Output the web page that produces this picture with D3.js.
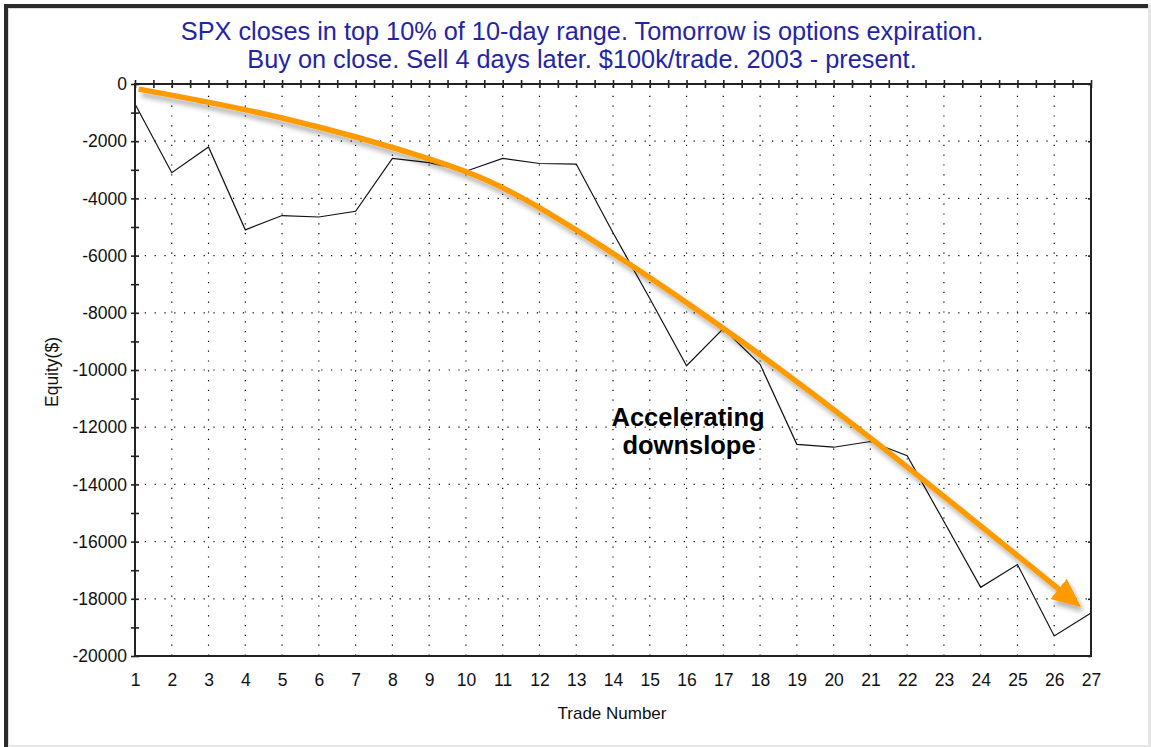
<!DOCTYPE html>
<html>
<head>
<meta charset="utf-8">
<script src="https://cdn.jsdelivr.net/npm/d3@7"></script>
<style>
  body { margin: 0; background: #fff; }
  svg { display: block; font-family: Arial, "Liberation Sans", sans-serif; }
</style>
</head>
<body>
<div id="chart"></div>
<script>
// Equity after each trade
const trades = d3.range(1, 28);
const equity = [-700, -3100, -2200, -5100, -4600, -4650, -4450, -2600, -2750, -3050,
  -2600, -2780, -2800, -5200, -7500, -9850, -8550, -9800, -12600, -12700,
  -12500, -13000, -15300, -17600, -16800, -19300, -18500];

// Hand drawn orange "trend" arrow, in trade / equity units
const arrowTrade = [1.1, 5, 9.1, 12.2, 16.9, 21.3, 26.16];
const arrowEquity = [-180, -1190, -2660, -4480, -8450, -12680, -17700];

const yTicks = d3.range(0, -20001, -2000);
const yMinor = d3.range(0, -20001, -1000);
const titleLines = [
  "SPX closes in top 10% of 10-day range. Tomorrow is options expiration.",
  "Buy on close. Sell 4 days later. $100k/trade. 2003 - present."
];

const W = 1151, H = 747;
const plotLeft = 135, plotRight = 1091, plotTop = 84, plotBottom = 656;

const svg = d3.select("#chart")
  .append("svg")
  .attr("width", W)
  .attr("height", H);

// window-like frame
svg.append("rect").attr("x", 4).attr("y", 4).attr("width", 1144).attr("height", 4).attr("fill", "#2b2b2b");
svg.append("rect").attr("x", 4).attr("y", 4).attr("width", 4).attr("height", 743).attr("fill", "#2b2b2b");
svg.append("rect").attr("x", 8).attr("y", 8).attr("width", 1140).attr("height", 1).attr("fill", "#dcdcdc");
svg.append("rect").attr("x", 8).attr("y", 8).attr("width", 1).attr("height", 739).attr("fill", "#dcdcdc");
svg.append("rect").attr("x", 1148).attr("y", 4).attr("width", 3).attr("height", 743).attr("fill", "#e6e6e6");
svg.append("rect").attr("x", 8).attr("y", 745).attr("width", 1143).attr("height", 2).attr("fill", "#e6e6e6");

const x = d3.scaleLinear().domain([1, 27]).range([plotLeft, plotRight]);
const y = d3.scaleLinear().domain([0, -20000]).range([plotTop, plotBottom]);

const defs = svg.append("defs");
const shadow = defs.append("filter")
  .attr("id", "shadow")
  .attr("x", "-10%").attr("y", "-10%")
  .attr("width", "130%").attr("height", "130%");
shadow.append("feDropShadow")
  .attr("dx", 3).attr("dy", 5)
  .attr("stdDeviation", 2.5)
  .attr("flood-color", "#000")
  .attr("flood-opacity", 0.3);

defs.append("marker")
  .attr("id", "head")
  .attr("markerUnits", "userSpaceOnUse")
  .attr("viewBox", "0 -14 30 28")
  .attr("refX", 2).attr("refY", 0)
  .attr("markerWidth", 30).attr("markerHeight", 28)
  .attr("orient", "auto")
  .append("path")
  .attr("d", "M0,-13L29,0L0,13Z")
  .attr("fill", "#ff9a00");

// dotted grid
svg.append("g")
  .selectAll("line")
  .data(trades.slice(1, -1))
  .enter()
  .append("line")
  .attr("x1", d => x(d)).attr("x2", d => x(d))
  .attr("y1", plotTop + 2).attr("y2", plotBottom)
  .attr("stroke", "#000")
  .attr("stroke-width", 1.2)
  .attr("stroke-dasharray", "1.2,8.6");

svg.append("g")
  .selectAll("line")
  .data(yTicks.slice(1, -1))
  .enter()
  .append("line")
  .attr("x1", plotLeft).attr("x2", plotRight)
  .attr("y1", d => y(d)).attr("y2", d => y(d))
  .attr("stroke", "#000")
  .attr("stroke-width", 1.2)
  .attr("stroke-dasharray", "1.2,8.6");

// equity line
const line = d3.line()
  .x((d, i) => x(trades[i]))
  .y(d => y(d));

svg.append("path")
  .datum(equity)
  .attr("fill", "none")
  .attr("stroke", "#111")
  .attr("stroke-width", 1.2)
  .attr("d", line);

// plot frame
svg.append("rect")
  .attr("x", plotLeft).attr("y", plotTop)
  .attr("width", plotRight - plotLeft).attr("height", plotBottom - plotTop)
  .attr("fill", "none")
  .attr("stroke", "#222")
  .attr("stroke-width", 2);

// Y axis, ticks crossing the line
svg.append("g")
  .attr("transform", `translate(${plotLeft},0)`)
  .call(d3.axisLeft(y).tickValues(yMinor).tickSize(4).tickPadding(4)
    .tickFormat(d => d % 2000 === 0 ? d : ""));
svg.append("g")
  .attr("transform", `translate(${plotLeft},0)`)
  .call(d3.axisRight(y).tickValues(yMinor).tickSize(4).tickFormat(""));

// right side ticks
svg.append("g")
  .attr("transform", `translate(${plotRight},0)`)
  .call(d3.axisLeft(y).tickValues(yTicks).tickSize(3).tickFormat(""));

// top ticks every half trade
const halfTicks = d3.range(1, 27.01, 0.5);
svg.append("g")
  .attr("transform", `translate(0,${plotTop})`)
  .call(d3.axisTop(x).tickValues(halfTicks).tickSize(4).tickFormat(""));
svg.append("g")
  .attr("transform", `translate(0,${plotTop})`)
  .call(d3.axisBottom(x).tickValues(halfTicks).tickSize(4).tickFormat(""));

// X axis labels
svg.append("g")
  .attr("transform", `translate(0,${plotBottom})`)
  .call(d3.axisBottom(x).tickValues(trades).tickSize(0).tickPadding(18).tickFormat(d3.format("d")));

svg.selectAll(".domain").remove();
svg.selectAll(".tick line").attr("stroke", "#222").attr("stroke-width", 1.6);
svg.selectAll(".tick text")
  .attr("font-family", "Arial, 'Liberation Sans', sans-serif")
  .attr("font-size", "17.5px")
  .attr("fill", "#111");

// axis titles
svg.append("text")
  .attr("x", 612)
  .attr("y", 719)
  .attr("text-anchor", "middle")
  .attr("font-size", "17px")
  .attr("fill", "#111")
  .text("Trade Number");

svg.append("text")
  .attr("x", -372)
  .attr("y", 58)
  .attr("transform", "rotate(-90)")
  .attr("text-anchor", "middle")
  .attr("font-size", "17.5px")
  .attr("fill", "#111")
  .text("Equity($)");

// title
svg.selectAll(".title")
  .data(titleLines)
  .enter()
  .append("text")
  .attr("class", "title")
  .attr("x", 582)
  .attr("y", (d, i) => 40 + i * 27.5)
  .attr("text-anchor", "middle")
  .attr("font-size", "25.3px")
  .attr("fill", "#2424a8")
  .text(d => d);

// orange arrow
const arrowLine = d3.line()
  .x((d, i) => x(arrowTrade[i]))
  .y(d => y(d))
  .curve(d3.curveNatural);

svg.append("path")
  .datum(arrowEquity)
  .attr("fill", "none")
  .attr("stroke", "#ff9a00")
  .attr("stroke-width", 5.5)
  .attr("stroke-linecap", "butt")
  .attr("marker-end", "url(#head)")
  .attr("filter", "url(#shadow)")
  .attr("d", arrowLine);

// annotation
svg.append("text")
  .attr("x", 688)
  .attr("y", 426)
  .attr("text-anchor", "middle")
  .attr("font-size", "25.5px")
  .attr("font-weight", "bold")
  .attr("fill", "#000")
  .text("Accelerating");
svg.append("text")
  .attr("x", 689)
  .attr("y", 454)
  .attr("text-anchor", "middle")
  .attr("font-size", "25.5px")
  .attr("font-weight", "bold")
  .attr("fill", "#000")
  .text("downslope");
</script>
</body>
</html>
